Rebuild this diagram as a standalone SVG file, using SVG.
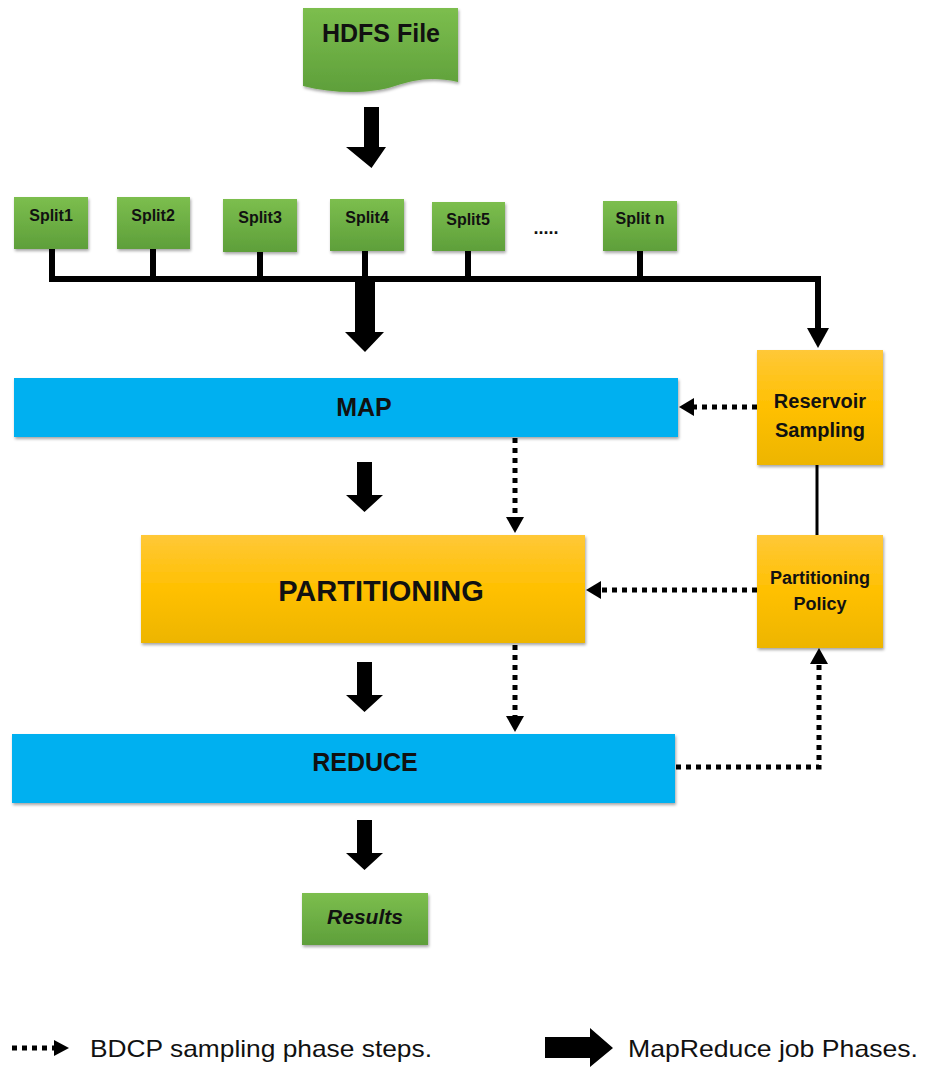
<svg xmlns="http://www.w3.org/2000/svg" width="926" height="1068" viewBox="0 0 926 1068">
<style>
text{font-family:"Liberation Sans",Arial,sans-serif;fill:#111;text-anchor:middle;}
text.st{text-anchor:start;}
.b{font-weight:bold;}
.green{fill:url(#gg);filter:url(#sh);}
.orange{fill:url(#og);filter:url(#sh);}
.blue{fill:#00B0F0;filter:url(#sh);}
.solid{stroke:#000;stroke-width:6;fill:none;}
.dot{stroke:#000;stroke-width:5;stroke-dasharray:5 5;fill:none;}
.big{fill:#000;}
</style>
<defs>
<linearGradient id="gg" x1="0" y1="0" x2="0" y2="1"><stop offset="0" stop-color="#7CBE4E"/><stop offset="1" stop-color="#5E9F3A"/></linearGradient>
<linearGradient id="og" x1="0" y1="0" x2="0" y2="1"><stop offset="0" stop-color="#FFC838"/><stop offset="0.5" stop-color="#FFC000"/><stop offset="1" stop-color="#EDB500"/></linearGradient>
<filter id="sh" x="-10%" y="-10%" width="125%" height="130%"><feDropShadow dx="1" dy="2" stdDeviation="1.5" flood-color="#000" flood-opacity="0.35"/></filter>
</defs>

<g id="connectors">
<path class="solid" d="M52,249 V279 M153,249 V279 M260,252 V279 M365,251 V279 M468,251 V279 M640,251 V279 M49,279 H818 V330"/>
<path class="big" d="M807,328 L829,328 L818,348 Z"/>
<path d="M817,465 V535" stroke="#000" stroke-width="3"/>
<path class="dot" d="M757,407 H692"/>
<path class="big" d="M679,407 L694,398 L694,416 Z"/>
<path class="dot" d="M757,590 H600"/>
<path class="big" d="M586,590 L601,581 L601,599 Z"/>
<path class="dot" d="M515,438 V518"/>
<path class="big" d="M506,517 L524,517 L515,533 Z"/>
<path class="dot" d="M515,645 V717"/>
<path class="big" d="M506,716 L524,716 L515,732 Z"/>
<path class="dot" d="M676,767 H819 V665"/>
<path class="big" d="M810,664 L828,664 L819,648 Z"/>
<path class="big" d="M364,107 H379 V147 H386 L371.5,168 L346,147 H364 Z"/>
<path class="big" d="M355,280 H375 V332 H384 L365,352 L345,332 H355 Z"/>
<path class="big" d="M357,462 H372 V495 H383 L364.5,512 L346,495 H357 Z"/>
<path class="big" d="M357,662 H372 V695 H383 L364.5,712 L346,695 H357 Z"/>
<path class="big" d="M357,820 H372 V853 H383 L364.5,870 L346,853 H357 Z"/>
</g>

<g id="hdfs">
<path class="green" d="M303,8 H458 V82 C430,76 415,80 395,86 C370,94 335,94 303,86 Z"/>
<text class="b" x="381" y="42" font-size="25">HDFS File</text>
</g>
<g id="split1"><rect class="green" x="14" y="197" width="74" height="52"/><text class="b" x="51" y="221" font-size="16">Split1</text></g>
<g id="split2"><rect class="green" x="117" y="197" width="73" height="52"/><text class="b" x="153" y="221" font-size="16">Split2</text></g>
<g id="split3"><rect class="green" x="223" y="199" width="74" height="53"/><text class="b" x="260" y="223" font-size="16">Split3</text></g>
<g id="split4"><rect class="green" x="330" y="199" width="74" height="52"/><text class="b" x="367" y="223" font-size="16">Split4</text></g>
<g id="split5"><rect class="green" x="432" y="202" width="73" height="49"/><text class="b" x="468" y="225" font-size="16">Split5</text></g>
<text class="b" x="546" y="234" font-size="18">.....</text>
<g id="splitn"><rect class="green" x="603" y="201" width="74" height="50"/><text class="b" x="640" y="224" font-size="16">Split n</text></g>

<g id="map"><rect class="blue" x="14" y="378" width="664" height="59"/><text class="b" x="364" y="416" font-size="25">MAP</text></g>
<g id="reservoir"><rect class="orange" x="757" y="350" width="126" height="115"/><text class="b" x="820" y="408" font-size="20">Reservoir</text><text class="b" x="820" y="437" font-size="20">Sampling</text></g>
<g id="partitioning"><rect class="orange" x="141" y="535" width="444" height="108"/><text class="b" x="381" y="601" font-size="29">PARTITIONING</text></g>
<g id="policy"><rect class="orange" x="757" y="535" width="126" height="113"/><text class="b" x="820" y="584" font-size="18">Partitioning</text><text class="b" x="820" y="610" font-size="18">Policy</text></g>
<g id="reduce"><rect class="blue" x="12" y="734" width="663" height="69"/><text class="b" x="365" y="771" font-size="25">REDUCE</text></g>
<g id="results"><rect class="green" x="302" y="893" width="126" height="52"/><text class="b" x="365" y="924" font-size="21" font-style="italic">Results</text></g>

<g id="legend">
<path class="dot" d="M12,1048 H54"/>
<path class="big" d="M54,1040 L69,1048 L54,1056 Z"/>
<text class="st" x="90" y="1057" font-size="24" textLength="342" lengthAdjust="spacingAndGlyphs">BDCP sampling phase steps.</text>
<path class="big" d="M545,1037 H590 V1028 L613,1048 L590,1067 V1058 H545 Z"/>
<text class="st" x="628" y="1057" font-size="24" textLength="290" lengthAdjust="spacingAndGlyphs">MapReduce job Phases.</text>
</g>
</svg>
